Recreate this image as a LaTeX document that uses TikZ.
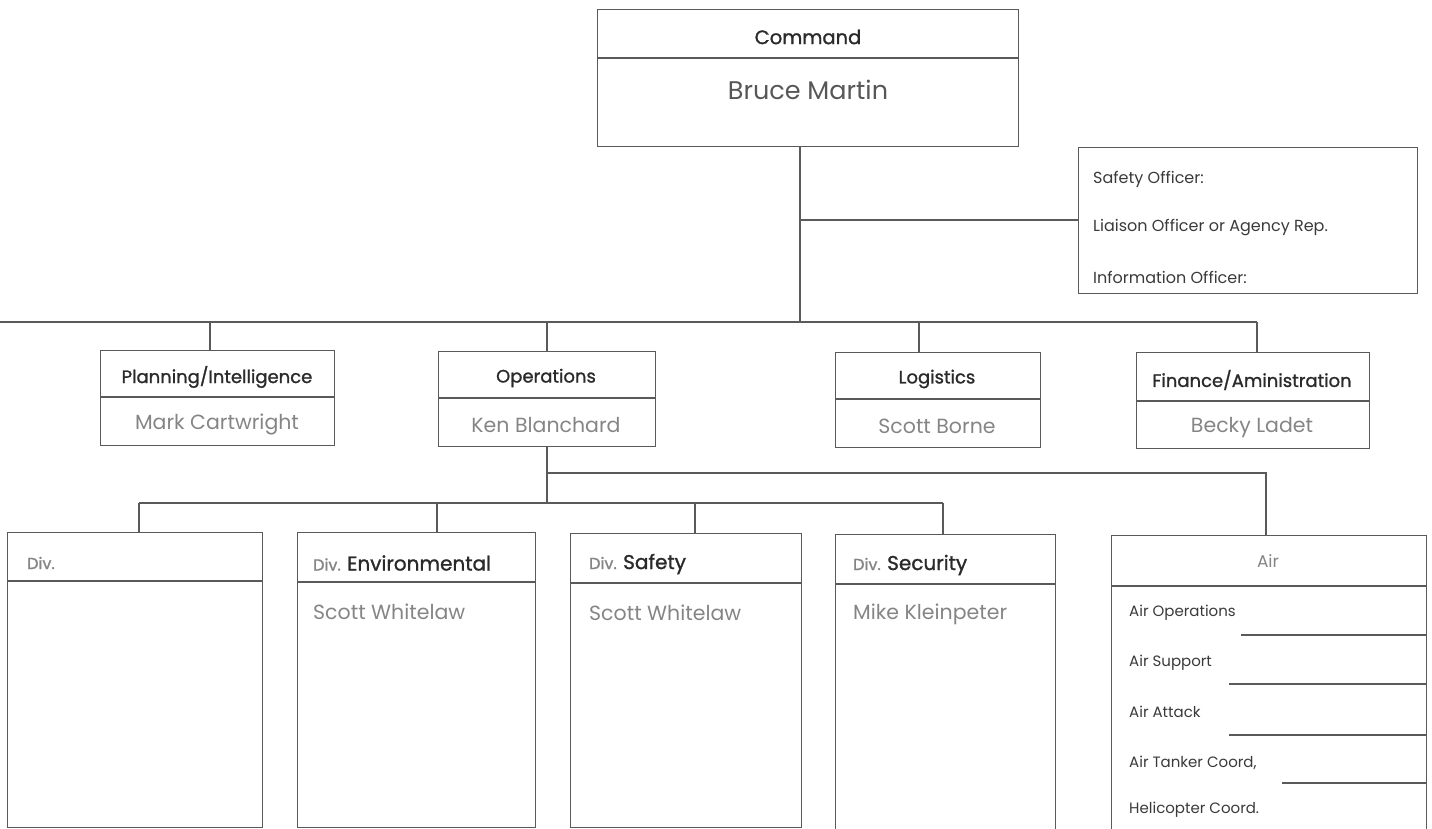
\documentclass[tikz,border=0pt]{standalone}
\usepackage{fontspec}
\setmainfont{Poppins}
\newfontfamily\hdrfont{Poppins}[FakeBold=1.2]
\definecolor{linec}{HTML}{5A5A5A}
\definecolor{hdrc}{HTML}{2A2A2A}
\definecolor{namec}{HTML}{858585}
\definecolor{itemc}{HTML}{3A3A3A}
\newcommand{\fs}[1]{\fontsize{#1}{#1}\selectfont}
\newcommand{\mkbox}[6]{%
  \node[box, minimum width=#4pt, minimum height=#5pt] (#1) at (#2,#3) {};
  \draw[conn] ([yshift=-#6pt]#1.north west) -- ([yshift=-#6pt]#1.north east);}
\begin{document}
\begin{tikzpicture}[x=1pt,y=-1pt,
  box/.style={draw=linec, line width=1.1pt, rectangle, inner sep=0pt, anchor=north west},
  conn/.style={draw=linec, line width=1.1pt},
  hdr/.style={text=hdrc, inner sep=0pt, font=\hdrfont\fs{18}},
  nm/.style={text=namec, inner sep=0pt, font=\fs{20.5}},
  item/.style={text=itemc, inner sep=0pt, anchor=west, font=\fs{15}}]
\useasboundingbox (0,0) rectangle (1432,829);
% command
\mkbox{cmd}{597}{9}{421}{137}{49}
\node[hdr, font=\hdrfont\fs{19.5}] (cmdh) at (808,37) {Command};
\node[nm, text=itemc!85, font=\fs{25.5}] (cmdn) at (808,90) {Bruce Martin};
% staff box
\node[box, minimum width=339pt, minimum height=146pt] (staff) at (1078,147) {};
\node[item, font=\fs{16}] (s1) at (1093,179) {Safety Officer:};
\node[item, font=\fs{16}] (s2) at (1093,228) {Liaison Officer or Agency Rep.};
\node[item, font=\fs{16}] (s3) at (1093,277) {Information Officer:};
% general staff
\mkbox{plan}{100}{350}{234}{95}{47}
\mkbox{ops}{438}{351}{217}{95}{47}
\mkbox{log}{835}{352}{205}{95}{47}
\mkbox{fin}{1136}{352}{233}{96}{49}
\node[hdr] (planh) at (217,377) {Planning/Intelligence};
\node[nm] (plann) at (217,424) {Mark Cartwright};
\node[hdr] (opsh) at (546,378) {Operations};
\node[nm] (opsn) at (546,425) {Ken Blanchard};
\node[hdr] (logh) at (937,379) {Logistics};
\node[nm] (logn) at (937,426) {Scott Borne};
\node[hdr] (finh) at (1252,380) {Finance/Aministration};
\node[nm] (finn) at (1252,428) {Becky Ladet};
% divisions
\mkbox{div1}{7}{532}{255}{295}{49}
\mkbox{env}{297}{532}{238}{295}{50}
\mkbox{saf}{570}{533}{231}{294}{50}
\mkbox{sec}{835}{534}{220}{310}{50}
\mkbox{air}{1111}{535}{315}{310}{51}
\node[hdr, anchor=west, text=namec] (div1h) at (27,563) {\fs{16}Div.};
\node[hdr, anchor=west] (envh) at (313,563) {{\color{namec}\fs{16}Div.} \fs{20}Environmental};
\node[nm, anchor=west] (envn) at (313,612) {Scott Whitelaw};
\node[hdr, anchor=west] (safh) at (589,564) {{\color{namec}\fs{16}Div.} \fs{20}Safety};
\node[nm, anchor=west] (safn) at (589,613) {Scott Whitelaw};
\node[hdr, anchor=west] (sech) at (853,565) {{\color{namec}\fs{16}Div.} \fs{20}Security};
\node[nm, anchor=west] (secn) at (853,614) {Mike Kleinpeter};
\node[hdr, text=namec, font=\fs{17}] (airh) at (1268,561) {Air};
\node[item] (a1) at (1129,613) {Air Operations};
\node[item] (a2) at (1129,663) {Air Support};
\node[item] (a3) at (1129,712) {Air Attack};
\node[item] (a4) at (1129,763) {Air Tanker Coord,};
\node[item] (a5) at (1129,810) {Helicopter Coord.};
% air entry lines
\coordinate (l1) at (1241,635);
\coordinate (l2) at (1229,684);
\coordinate (l3) at (1229,735);
\coordinate (l4) at (1282,783);
\draw[conn] (l1) -- (l1 -| air.east);
\draw[conn] (l2) -- (l2 -| air.east);
\draw[conn] (l3) -- (l3 -| air.east);
\draw[conn] (l4) -- (l4 -| air.east);
% connectors
\coordinate (c1) at (800,146);
\coordinate (hub) at (800,322);
\coordinate (brs) at (800,220);
\coordinate (busl) at (0,322);
\coordinate (busr) at (1257,322);
\draw[conn] (c1) -- (hub);
\draw[conn] (brs) -- (staff.west |- brs);
\draw[conn] (busl) -- (busr);
\coordinate (dp) at (210,322);
\coordinate (do) at (547,322);
\coordinate (dl) at (919,322);
\draw[conn] (dp) -- (dp |- plan.north);
\draw[conn] (do) -- (do |- ops.north);
\draw[conn] (dl) -- (dl |- log.north);
\draw[conn] (busr) -- (busr |- fin.north);
\coordinate (ob) at (547,446);
\coordinate (oa) at (547,473);
\coordinate (od) at (547,503);
\coordinate (ar) at (1266,473);
\draw[conn] (ob) -- (od);
\draw[conn] (oa) -- (ar) -- (ar |- air.north);
\coordinate (b1) at (139,503);
\coordinate (b2) at (437,503);
\coordinate (b3) at (695,503);
\coordinate (b4) at (943,503);
\draw[conn] (b1) -- (b4);
\draw[conn] (b1) -- (b1 |- div1.north);
\draw[conn] (b2) -- (b2 |- env.north);
\draw[conn] (b3) -- (b3 |- saf.north);
\draw[conn] (b4) -- (b4 |- sec.north);
\end{tikzpicture}
\end{document}
